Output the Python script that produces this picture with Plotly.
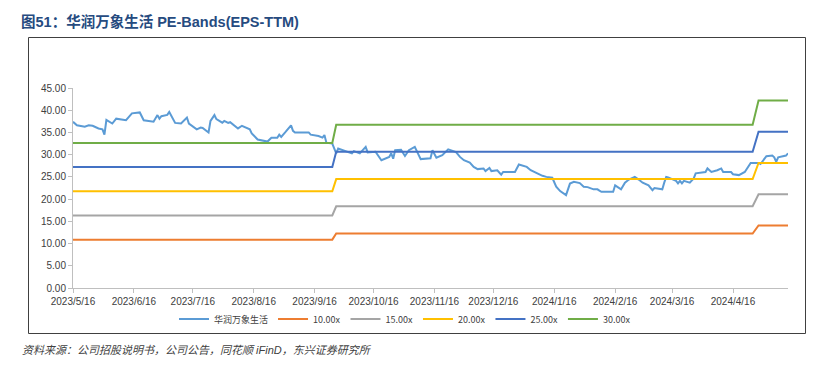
import plotly.graph_objects as go

# ---------------- data ----------------
pe_dates = [
    "2023-05-16", "2023-05-17", "2023-05-18", "2023-05-22", "2023-05-24", "2023-05-26", "2023-05-29",
    "2023-05-31", "2023-06-01", "2023-06-02", "2023-06-05", "2023-06-07", "2023-06-12", "2023-06-15",
    "2023-06-19", "2023-06-21", "2023-06-26", "2023-06-28", "2023-06-29", "2023-06-30", "2023-07-03",
    "2023-07-04", "2023-07-07", "2023-07-10", "2023-07-13", "2023-07-14", "2023-07-18", "2023-07-20",
    "2023-07-21", "2023-07-24", "2023-07-25", "2023-07-27", "2023-07-28", "2023-07-31", "2023-08-01",
    "2023-08-03", "2023-08-04", "2023-08-08", "2023-08-10", "2023-08-14", "2023-08-15", "2023-08-18",
    "2023-08-21", "2023-08-23", "2023-08-25", "2023-08-28", "2023-08-29", "2023-08-30", "2023-09-01",
    "2023-09-04", "2023-09-05", "2023-09-06", "2023-09-13", "2023-09-14", "2023-09-18", "2023-09-20",
    "2023-09-21", "2023-09-22", "2023-09-25", "2023-09-26", "2023-09-27", "2023-09-28", "2023-10-03",
    "2023-10-05", "2023-10-06", "2023-10-09", "2023-10-12", "2023-10-13", "2023-10-17", "2023-10-20",
    "2023-10-24", "2023-10-25", "2023-10-26", "2023-10-27", "2023-10-30", "2023-11-01", "2023-11-03",
    "2023-11-06", "2023-11-09", "2023-11-13", "2023-11-14", "2023-11-15", "2023-11-17", "2023-11-20",
    "2023-11-23", "2023-11-27", "2023-11-29", "2023-12-01", "2023-12-04", "2023-12-06", "2023-12-07",
    "2023-12-08", "2023-12-11", "2023-12-12", "2023-12-14", "2023-12-15", "2023-12-18", "2023-12-20",
    "2023-12-21", "2023-12-27", "2023-12-29", "2024-01-02", "2024-01-04", "2024-01-08", "2024-01-10",
    "2024-01-12", "2024-01-15", "2024-01-17", "2024-01-18", "2024-01-19", "2024-01-22", "2024-01-24",
    "2024-01-26", "2024-01-29", "2024-01-31", "2024-02-02", "2024-02-05", "2024-02-07", "2024-02-08",
    "2024-02-09", "2024-02-15", "2024-02-16", "2024-02-19", "2024-02-21", "2024-02-23", "2024-02-26",
    "2024-02-28", "2024-03-01", "2024-03-04", "2024-03-06", "2024-03-07", "2024-03-11", "2024-03-12",
    "2024-03-13", "2024-03-14", "2024-03-18", "2024-03-19", "2024-03-20", "2024-03-21", "2024-03-22",
    "2024-03-25", "2024-03-27", "2024-03-28", "2024-04-02", "2024-04-03", "2024-04-05", "2024-04-08",
    "2024-04-10", "2024-04-11", "2024-04-15", "2024-04-16", "2024-04-19", "2024-04-22", "2024-04-24",
    "2024-04-25", "2024-04-29", "2024-04-30", "2024-05-03", "2024-05-06", "2024-05-07", "2024-05-08",
    "2024-05-09", "2024-05-13", "2024-05-14",
]
pe_values = [
    37.4, 36.9, 36.6, 36.3, 36.6, 36.5, 35.9,
    35.7, 34.5, 37.8, 37.0, 38.1, 37.75, 39.3,
    39.5, 37.75, 37.4, 38.9, 38.1, 38.65, 38.95,
    39.6, 37.15, 37.0, 38.35, 37.0, 35.7, 36.1,
    36.0, 35.0, 37.6, 38.9, 38.0, 37.2, 37.6,
    37.15, 37.3, 35.9, 36.5, 35.7, 34.8, 33.4,
    33.1, 32.95, 33.8, 33.8, 34.5, 34.0, 35.0,
    36.6, 35.35, 35.0, 35.0, 34.5, 34.2, 33.85,
    34.4, 32.7, 32.5, 31.4, 30.3, 31.4, 30.5,
    30.3, 30.8, 30.3, 31.75, 30.5, 30.65, 28.75,
    29.5, 30.3, 29.1, 31.0, 31.1, 29.7, 31.0,
    31.75, 29.0, 29.1, 29.2, 31.0, 29.3, 29.9,
    31.2, 30.6, 29.5, 28.75, 28.2, 27.25, 27.0,
    26.75, 26.9, 26.3, 27.0, 26.3, 26.5, 25.5,
    26.1, 26.1, 27.8, 27.25, 26.5, 25.55, 25.25,
    25.0, 24.8, 22.8, 22.3, 21.8, 20.9, 23.5,
    23.9, 23.6, 22.8, 22.7, 22.2, 22.2, 21.9,
    21.65, 21.65, 23.1, 22.2, 23.7, 24.4, 25.0,
    24.4, 23.7, 23.1, 22.0, 22.5, 22.2, 23.7,
    25.0, 24.9, 24.1, 23.55, 24.1, 23.55, 24.1,
    23.7, 24.65, 25.8, 26.1, 26.9, 26.1, 26.5,
    26.9, 26.1, 26.1, 25.6, 25.4, 26.1, 27.6,
    28.15, 28.15, 27.9, 29.65, 29.8, 29.4, 28.4,
    29.4, 29.8, 30.3,
]

band_dates = ["2023-05-16", "2023-09-25", "2023-09-27", "2024-04-26", "2024-04-29", "2024-05-14"]
band_10x = [10.88, 10.88, 12.25, 12.25, 14.07, 14.07]
band_15x = [16.32, 16.32, 18.38, 18.38, 21.10, 21.10]
band_20x = [21.76, 21.76, 24.50, 24.50, 28.14, 28.14]
band_25x = [27.20, 27.20, 30.63, 30.63, 35.18, 35.18]
band_30x = [32.64, 32.64, 36.75, 36.75, 42.20, 42.20]

x_tick_vals = ["2023-05-16", "2023-06-16", "2023-07-16", "2023-08-16", "2023-09-16", "2023-10-16",
               "2023-11-16", "2023-12-16", "2024-01-16", "2024-02-16", "2024-03-16", "2024-04-16"]
x_tick_text = ["2023/5/16", "2023/6/16", "2023/7/16", "2023/8/16", "2023/9/16", "2023/10/16",
               "2023/11/16", "2023/12/16", "2024/1/16", "2024/2/16", "2024/3/16", "2024/4/16"]
y_tick_vals = [0, 5, 10, 15, 20, 25, 30, 35, 40, 45]
y_tick_text = ["0.00", "5.00", "10.00", "15.00", "20.00", "25.00", "30.00", "35.00", "40.00", "45.00"]

series_name = "华润万象生活"
band_names = ["10.00x", "15.00x", "20.00x", "25.00x", "30.00x"]
band_colors = ["#ED7D31", "#A5A5A5", "#FFC000", "#4472C4", "#70AD47"]

# ---------------- figure ----------------
# The page body has an 8px margin, so figure coords = page coords - 8.
OFF = 8
W, H = 818 - OFF, 377 - OFF
plot_x0, plot_x1 = 73 - OFF, 788 - OFF
plot_y0, plot_y1 = 88 - OFF, 288 - OFF
L, R, T, B = plot_x0, W - plot_x1, plot_y0, H - plot_y1
pw, ph = plot_x1 - plot_x0, plot_y1 - plot_y0

fig = go.Figure()
fig.add_trace(go.Scatter(x=pe_dates, y=pe_values, mode="lines", name=series_name,
                         line=dict(color="#5B9BD5", width=2)))
for name, vals, col in zip(band_names, [band_10x, band_15x, band_20x, band_25x, band_30x], band_colors):
    fig.add_trace(go.Scatter(x=band_dates, y=vals, mode="lines", name=name,
                             line=dict(color=col, width=2)))

def px2paper_x(px):  # px in page coords
    return (px - OFF - L) / pw

def px2paper_y(py):
    return (plot_y1 - (py - OFF)) / ph

fig.add_shape(type="rect", xref="paper", yref="paper",
              x0=px2paper_x(28.5), x1=px2paper_x(805.5), y0=px2paper_y(333.5), y1=px2paper_y(37.5),
              line=dict(color="#404040", width=1), fillcolor="rgba(0,0,0,0)", layer="below")

fig.add_annotation(text="<b>图51：华润万象生活 PE-Bands(EPS-TTM)</b>", xref="paper", yref="paper",
                   x=px2paper_x(19), y=px2paper_y(22), xanchor="left", yanchor="middle",
                   showarrow=False,
                   font=dict(family="Liberation Sans, Noto Sans CJK SC", size=14.5, color="#264B7F"))
fig.add_annotation(text="<i>资料来源：公司招股说明书，公司公告，同花顺 iFinD，东兴证券研究所</i>",
                   xref="paper", yref="paper",
                   x=px2paper_x(20), y=px2paper_y(350), xanchor="left", yanchor="middle",
                   showarrow=False,
                   font=dict(family="Liberation Sans, Noto Sans CJK SC", size=11, color="#404040"))

fig.update_layout(
    width=W, height=H,
    margin=dict(l=L, r=R, t=T, b=B),
    paper_bgcolor="white", plot_bgcolor="white",
    font=dict(family="Liberation Sans, Noto Sans CJK SC", size=10, color="#404040"),
    showlegend=True,
    legend=dict(orientation="h", x=px2paper_x(405), xanchor="center", y=px2paper_y(319), yanchor="middle",
                font=dict(family="Noto Sans CJK SC", size=9, color="#404040"),
                bgcolor="rgba(0,0,0,0)", itemwidth=30, tracegroupgap=0),
    xaxis=dict(type="date", range=["2023-05-16", "2024-05-14"],
               tickvals=x_tick_vals, ticktext=x_tick_text, tickangle=0,
               showgrid=False, zeroline=False, showline=True, linecolor="#BFBFBF", linewidth=1,
               ticks="outside", ticklen=4, tickcolor="#BFBFBF",
               tickfont=dict(size=10, color="#404040")),
    yaxis=dict(range=[0, 45], tickvals=y_tick_vals, ticktext=y_tick_text,
               showgrid=False, zeroline=False, showline=True, linecolor="#BFBFBF", linewidth=1,
               ticks="outside", ticklen=4, tickcolor="#BFBFBF",
               tickfont=dict(size=10, color="#404040")),
)

fig.write_html("out.html")
